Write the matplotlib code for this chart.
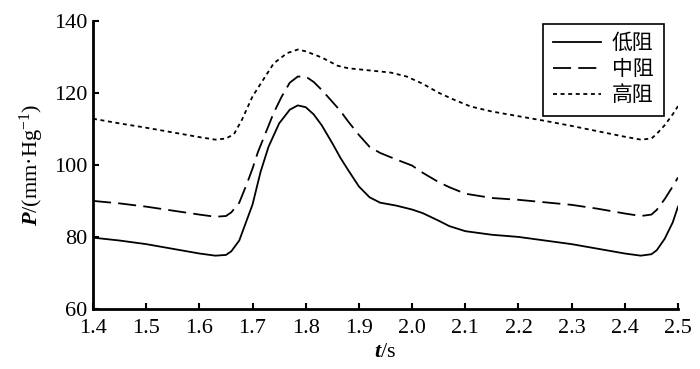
import matplotlib
matplotlib.use("Agg")
import matplotlib.pyplot as plt

plt.rcParams['font.family'] = ['Liberation Serif', 'Noto Sans CJK SC']
plt.rcParams['mathtext.fontset'] = 'custom'
plt.rcParams['mathtext.rm'] = 'Liberation Serif'
plt.rcParams['mathtext.it'] = 'Liberation Serif:italic:bold'
plt.rcParams['mathtext.bf'] = 'Liberation Serif:bold'

labels = ['低阻', '中阻', '高阻']

t_low = [1.40, 1.45, 1.50, 1.55, 1.60, 1.63, 1.65, 1.66, 1.675, 1.69, 1.70, 1.715, 1.73, 1.75, 1.77, 1.785,
         1.80, 1.815, 1.83, 1.85, 1.865, 1.88, 1.90, 1.92, 1.94, 1.97, 2.00, 2.02, 2.05, 2.07, 2.10, 2.15,
         2.20, 2.25, 2.30, 2.35, 2.40, 2.43, 2.45, 2.46, 2.475, 2.49, 2.50]
p_low = [79.8, 79.0, 78.0, 76.7, 75.4, 74.8, 75.0, 76.0, 79.0, 85.0, 89.0, 98.0, 105.0, 111.5, 115.3, 116.5,
         116.0, 114.0, 111.0, 106.0, 102.0, 98.5, 94.0, 91.0, 89.5, 88.7, 87.6, 86.6, 84.5, 83.0, 81.6, 80.6,
         80.0, 79.0, 78.0, 76.7, 75.4, 74.8, 75.2, 76.3, 79.5, 84.0, 88.4]

t_mid = [1.40, 1.45, 1.50, 1.55, 1.60, 1.63, 1.65, 1.66, 1.675, 1.69, 1.70, 1.71, 1.725, 1.74, 1.755, 1.77,
         1.785, 1.80, 1.815, 1.83, 1.85, 1.865, 1.88, 1.90, 1.92, 1.94, 1.97, 2.00, 2.02, 2.05, 2.07, 2.10,
         2.15, 2.20, 2.25, 2.30, 2.35, 2.40, 2.43, 2.45, 2.46, 2.475, 2.49, 2.50]
p_mid = [90.0, 89.3, 88.4, 87.3, 86.2, 85.6, 85.8, 86.8, 89.5, 95.0, 99.0, 103.5, 109.0, 114.5, 119.0, 122.8,
         124.5, 124.5, 123.0, 120.8, 117.5, 115.0, 112.0, 108.3, 105.0, 103.3, 101.5, 99.8, 97.8, 95.2, 93.8, 92.0,
         90.8, 90.3, 89.6, 88.9, 87.8, 86.5, 85.8, 86.2, 87.5, 90.5, 94.0, 96.5]

t_high = [1.40, 1.45, 1.50, 1.55, 1.60, 1.63, 1.65, 1.665, 1.68, 1.70, 1.72, 1.74, 1.765, 1.785, 1.80, 1.83,
          1.86, 1.88, 1.92, 1.96, 1.99, 2.02, 2.05, 2.08, 2.11, 2.15, 2.20, 2.25, 2.30, 2.35, 2.40, 2.43,
          2.45, 2.46, 2.475, 2.49, 2.50]
p_high = [112.8, 111.5, 110.3, 109.0, 107.7, 107.0, 107.3, 108.5, 112.5, 119.0, 123.6, 128.2, 131.0, 132.0, 131.5, 129.8,
          127.5, 126.8, 126.2, 125.6, 124.5, 122.5, 120.0, 118.0, 116.2, 114.8, 113.5, 112.2, 110.8, 109.3, 107.8, 107.0,
          107.3, 108.6, 111.0, 114.0, 116.3]

x_ticks = [1.4, 1.5, 1.6, 1.7, 1.8, 1.9, 2.0, 2.1, 2.2, 2.3, 2.4, 2.5]
y_ticks = [60, 80, 100, 120, 140]

fig = plt.figure(figsize=(7.0, 3.69), dpi=100)
ax = fig.add_axes([93/700, 1-309/369, (678-93)/700, (309-20.7)/369])

lw = 1.3
ax.plot(t_low, p_low, color='black', lw=lw, label=labels[0])
ax.plot(t_mid, p_mid, color='black', lw=lw, dashes=(10, 4), label=labels[1])
ax.plot(t_high, p_high, color='black', lw=lw, dashes=(2.2, 2.0), label=labels[2])

ax.set_xlim(1.4, 2.5)
ax.set_ylim(60, 140)
ax.set_xticks(x_ticks)
ax.set_xticklabels([f'{v:.1f}' for v in x_ticks])
ax.set_yticks(y_ticks)
ax.tick_params(direction='in', length=4, width=1.5, labelsize=16)
ax.tick_params(axis='x', pad=7)
ax.tick_params(axis='y', pad=4)
for s in ['top', 'right']:
    ax.spines[s].set_visible(False)
for s in ['left', 'bottom']:
    ax.spines[s].set_linewidth(2)

ax.set_xlabel(r'$t$/s', fontsize=16, labelpad=4)
ax.set_ylabel(r'$P$/(mm·Hg$^{-1}$)', fontsize=16, labelpad=6)

leg = ax.legend(loc='upper right', bbox_to_anchor=(664/700, 1-24/369), bbox_transform=fig.transFigure,
                borderaxespad=0, frameon=True, fancybox=False, edgecolor='black', framealpha=1,
                handlelength=2.3, handletextpad=0.5, labelspacing=0.3, borderpad=0.5,
                prop={'family': ['Liberation Serif', 'Noto Sans CJK SC'], 'size': 15})
leg.get_frame().set_linewidth(1.2)

fig.savefig('out.png', dpi=100)
